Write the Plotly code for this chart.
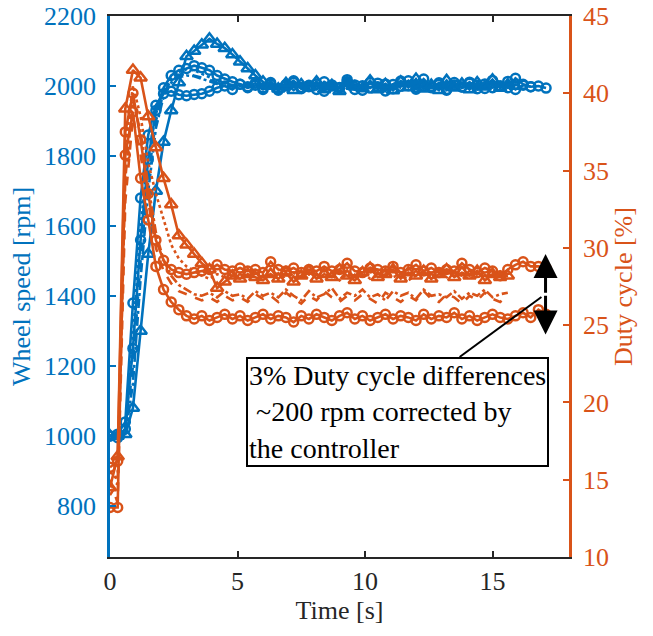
import plotly.graph_objects as go

BLUE = "#0072BD"
ORANGE = "#D95319"
FONT = "Liberation Serif, Times New Roman, serif"

TIME = [0.0, 0.3, 0.6, 0.9, 1.2, 1.5, 1.8, 2.1, 2.4, 2.7, 3.0, 3.3, 3.6, 3.9, 4.2, 4.5,
        4.8, 5.1, 5.4, 5.7, 6.0, 6.3, 6.6, 6.9, 7.2, 7.5, 7.8, 8.1, 8.4, 8.7, 9.0, 9.3,
        9.6, 9.9, 10.2, 10.5, 10.8, 11.1, 11.4, 11.7, 12.0, 12.3, 12.6, 12.9, 13.2, 13.5,
        13.8, 14.1, 14.4, 14.7, 15.0, 15.3, 15.6, 15.9, 16.2, 16.5, 16.8, 17.1]

# Wheel speed [rpm]
speed_a = [1000, 995, 1020, 1250, 1560, 1790, 1930, 1995, 2030, 2045, 2050, 2058, 2052, 2045, 2030, 2020,
           2012, 2005, 1998, 2008, 1995,
           2010, 1992, 2004, 2015, 1996, 2002, 1990, 2012, 2000, 1994, 2018, 2003, 1988, 2010, 1998, 2006,
           1992, 2014, 2001, 1996, 2020, 1999, 2004, 1990, 2010, 1997, 2008, 2002, 1993, 2016, 2000, 1995,
           2022, 2005, 1998, 2000, 1994]
speed_b = [1000, 1000, 1005, 1080, 1300, 1520, 1700, 1840, 1930, 2010, 2085, 2100, 2118, 2135, 2120, 2108,
           2090, 2069, 2050, 2030, 2012,
           2000, 1992, 2008, 1988, 2004, 1996, 2012, 1990, 2002, 1985, 2010, 1998, 1993, 2015, 1990, 2005,
           1987, 2012, 1996, 2020, 1992, 2003, 1988, 2016, 1995, 2006, 1990, 2010, 1998, 2018, 1994, 2004, 2000]
speed_c = [1000, 1005, 1040, 1380, 1680, 1860, 1945, 1978, 1985, 1975, 1972, 1976, 1978, 1985, 1995, 2000,
           1990, 2005, 1995, 2002, 1990,
           2005, 1988, 2000, 2010, 1992, 1998, 2006, 1985, 2003, 1996, 2012, 1990, 2001, 1994, 2008, 1986,
           2004, 1999, 2015, 1991, 2000, 1995, 2009, 1988, 2003, 1997, 2011, 1992, 2006, 1995, 2000, 2013,
           1990, 2002, 1998]
speed_d = [1000, 1000, 1010, 1200, 1500, 1740, 1900, 1980, 2015, 2030, 2035, 2030, 2025, 2018, 2010, 2005,
           2000, 1998, 2003, 1996, 2004,
           1998, 2006, 1995, 2002, 2008, 1993, 2001, 1997, 2010, 1994, 2003, 1999, 2007, 1992, 2004, 1998,
           2009, 1995, 2001, 2006, 1993, 2000, 2005, 1996, 2008, 1994, 2002, 1999, 2006, 1997, 2003, 2000]
speed_e = [1000, 1000, 1015, 1280, 1600, 1800, 1920, 1985, 2020, 2040, 2048, 2045, 2035, 2025, 2015, 2008,
           2002, 1998, 2005, 1995, 2003,
           1997, 2004, 1993, 2007, 1999, 2002, 1995, 2009, 1998, 2003, 1992, 2006, 2000, 1996, 2008, 1994,
           2005, 1999, 2003, 1993, 2007, 2001, 1997, 2004, 1995, 2006, 1998, 2002, 1996, 2005, 1999, 2001]
speed_f = [1000, 1000, 1000, 1150, 1450, 1700, 1880, 1970, 2010, 2025, 2030, 2028, 2020, 2012, 2006, 2002,
           1998, 2001, 1996, 2004, 1999,
           2003, 1995, 2006, 1998, 2002, 1994, 2007, 2000, 1996, 2005, 1993, 2004, 1999, 2008, 1995, 2002,
           1997, 2006, 2000, 1994, 2005, 1998, 2003, 1996, 2007, 1999, 2001, 1995, 2004, 1998, 2002, 2000]

# Duty cycle [%]
duty_a = [15.8, 16.2, 37.5, 40.0, 37.0, 33.5, 30.5, 29.2, 28.6, 28.4, 28.3, 28.4, 28.5, 28.6, 28.9, 28.6,
          28.5, 28.7, 28.5, 28.6, 28.4,
          29.1, 28.6, 28.5, 28.7, 28.4, 28.6, 28.5, 28.8, 28.5, 28.6, 29.0, 28.5, 28.4, 28.7, 28.6, 28.5,
          28.8, 28.4, 28.6, 28.9, 28.5, 28.7, 28.4, 28.6, 28.5, 29.0, 28.6, 28.4, 28.7, 28.5, 28.2, 28.6,
          28.9, 29.1, 28.8, 28.8, 28.7]
duty_b = [14.5, 16.5, 39.0, 41.5, 41.0, 38.5, 36.5, 34.5, 32.8, 30.8, 30.2, 29.6, 29.0, 28.6, 27.4, 27.8,
          28.2, 28.0, 28.3, 28.1, 27.9,
          28.3, 28.0, 28.4, 27.8, 28.2, 28.5, 28.0, 28.3, 28.1, 28.6, 28.2, 27.9, 28.4, 28.7, 28.1, 28.3,
          28.6, 28.0, 28.4, 28.2, 28.5, 28.0, 28.3, 28.6, 28.1, 28.4, 28.2, 28.5, 27.9, 28.3, 28.1, 28.2]
duty_c = [13.2, 13.2, 36.0, 38.8, 34.5, 31.8, 28.8, 27.3, 26.5, 26.0, 25.6, 25.4, 25.6, 25.3, 25.5, 25.7,
          25.4, 25.6, 25.3, 25.5, 25.7,
          25.4, 25.6, 25.5, 25.2, 25.6, 25.4, 25.7, 25.5, 25.3, 25.6, 25.8, 25.4, 25.6, 25.3, 25.5, 25.7,
          25.4, 25.6, 25.5, 25.3, 25.7, 25.4, 25.6, 25.5, 25.8, 25.4, 25.6, 25.3, 25.5, 25.7, 25.5, 25.4,
          25.6, 25.8, 25.5, 26.0, 25.7]
duty_d = [15.0, 13.5, 33.0, 38.5, 36.0, 33.0, 30.0, 28.5, 27.7, 27.2, 27.0, 26.8, 26.6, 26.8, 26.5, 26.9,
          26.6, 26.8, 26.5, 27.0, 26.7,
          26.9, 26.5, 27.1, 26.7, 26.4, 26.9, 26.6, 27.2, 26.8, 26.5, 26.9, 26.6, 27.0, 26.7, 26.4, 27.1,
          26.8, 26.5, 26.9, 26.6, 27.2, 26.7, 26.5, 27.0, 26.8, 26.4, 26.9, 26.6, 27.1, 26.7, 26.5, 26.9]
duty_e = [15.5, 15.0, 36.5, 40.5, 38.5, 35.5, 33.5, 31.8, 30.2, 29.3, 28.8, 28.5, 28.2, 28.0, 28.3, 28.1,
          28.4, 28.0, 28.2, 28.5, 28.1,
          28.3, 27.9, 28.2, 28.4, 28.0, 28.3, 28.1, 28.5, 28.2, 27.9, 28.3, 28.1, 28.4, 28.0, 28.2, 28.5,
          28.1, 28.3, 27.9, 28.2, 28.4, 28.0, 28.3, 28.1, 28.5, 28.2, 28.0, 28.3, 28.1, 28.4, 28.0, 28.2]
duty_f = [14.0, 14.8, 34.5, 39.5, 37.5, 34.0, 31.0, 29.2, 28.2, 27.6, 27.3, 27.0, 26.9, 27.1, 26.8, 27.2,
          26.9, 27.0, 26.7, 27.2, 26.9,
          27.1, 26.8, 27.3, 26.9, 26.6, 27.2, 26.8, 27.0, 27.4, 26.7, 27.1, 26.9, 27.3, 26.8, 27.0, 26.6,
          27.2, 26.9, 27.1, 26.7, 27.3, 26.9, 27.0, 26.8, 27.2, 26.7, 27.1, 26.9, 27.3, 26.8, 27.0, 27.1]

# (values, dash, marker symbol)
SPEED_SERIES = [(speed_d, "dash", None), (speed_e, "dot", None), (speed_f, "dashdot", None),
                (speed_c, "solid", "circle-open"), (speed_a, "solid", "circle-open"),
                (speed_b, "solid", "triangle-up-open")]
DUTY_SERIES = [(duty_d, "dash", None), (duty_e, "dot", None), (duty_f, "dashdot", None),
               (duty_c, "solid", "circle-open"), (duty_a, "solid", "circle-open"),
               (duty_b, "solid", "triangle-up-open")]

X_TICKS = [0, 5, 10, 15]
SPEED_TICKS = [800, 1000, 1200, 1400, 1600, 1800, 2000, 2200]
DUTY_TICKS = [10, 15, 20, 25, 30, 35, 40, 45]

fig = go.Figure()


def add(vals, dash, sym, color, yaxis):
    mode = "lines+markers" if sym else "lines"
    marker = dict(symbol=sym, size=11 if "triangle" in sym else 9,
                  line=dict(width=2.5, color=color), color=color) if sym else None
    fig.add_trace(go.Scatter(x=TIME[:len(vals)], y=vals, mode=mode, yaxis=yaxis,
                             line=dict(color=color, width=2.6, dash=dash),
                             marker=marker, showlegend=False, hoverinfo="skip"))


for vals, dash, sym in SPEED_SERIES:
    add(vals, dash, sym, BLUE, "y")
for vals, dash, sym in DUTY_SERIES:
    add(vals, dash, sym, ORANGE, "y2")

FS = 26

# plot box at x 110-569, y 16-557 (page body margin removed below)
fig.update_layout(
    width=653, height=636,
    margin=dict(l=110, r=84, t=16, b=79, autoexpand=False),
    paper_bgcolor="white", plot_bgcolor="white",
    font=dict(family=FONT, size=FS, color="#262626"),
    xaxis=dict(range=[0, 18], tickvals=X_TICKS, ticks="inside", ticklen=6, tickwidth=1.5,
               tickcolor="#262626", showline=True, linecolor="#262626", linewidth=2,
               mirror="ticks", showgrid=False, zeroline=False, automargin=False,
               ticklabeloverflow="allow",
               tickfont=dict(family=FONT, size=FS, color="#262626"),
               title=dict(text="Time [s]", font=dict(family=FONT, size=FS, color="#262626"),
                          standoff=2)),
    yaxis=dict(range=[654, 2200], tickvals=SPEED_TICKS, ticks="inside", ticklen=6, tickwidth=1.5,
               tickcolor=BLUE, showline=True, linecolor=BLUE, linewidth=2.5,
               showgrid=False, zeroline=False, ticklabelstandoff=6, automargin=False,
               ticklabeloverflow="allow",
               tickfont=dict(family=FONT, size=FS, color=BLUE),
               title=dict(text="Wheel speed [rpm]", font=dict(family=FONT, size=FS, color=BLUE),
                          standoff=6)),
    yaxis2=dict(range=[10, 45], tickvals=DUTY_TICKS, overlaying="y", side="right",
                ticks="inside", ticklen=6, tickwidth=1.5, tickcolor=ORANGE,
                showline=True, linecolor=ORANGE, linewidth=2.5, automargin=False,
                showgrid=False, zeroline=False, ticklabelstandoff=6,
                ticklabeloverflow="allow",
                tickfont=dict(family=FONT, size=FS, color=ORANGE),
                title=dict(text="Duty cycle [%]", font=dict(family=FONT, size=FS, color=ORANGE),
                           standoff=6)),
)

# connector line from text box to double arrow
fig.add_shape(type="line", xref="x", yref="y2", x0=13.71, y0=22.94, x1=16.92, y1=26.82,
              line=dict(color="black", width=2))

# double-headed arrow
for end in (29.6, 24.4):
    fig.add_annotation(x=17.08, y=end, xref="x", yref="y2", ax=17.08, ay=27.0,
                       axref="x", ayref="y2", text="", showarrow=True, arrowhead=2,
                       arrowsize=1.6, arrowwidth=3, arrowcolor="black", standoff=0)

fig.add_annotation(x=5.33, y=22.94, xref="x", yref="y2", xanchor="left", yanchor="top",
                   text="3% Duty cycle differences<br>\u00a0~200 rpm corrected by<br>the controller",
                   showarrow=False, align="left", bgcolor="white", bordercolor="black",
                   borderwidth=2, borderpad=1,
                   font=dict(family=FONT, size=28, color="black"))

fig.write_html("out.html", config={"displayModeBar": False},
               post_script="document.body.style.margin='0';document.body.style.overflow='hidden';")
